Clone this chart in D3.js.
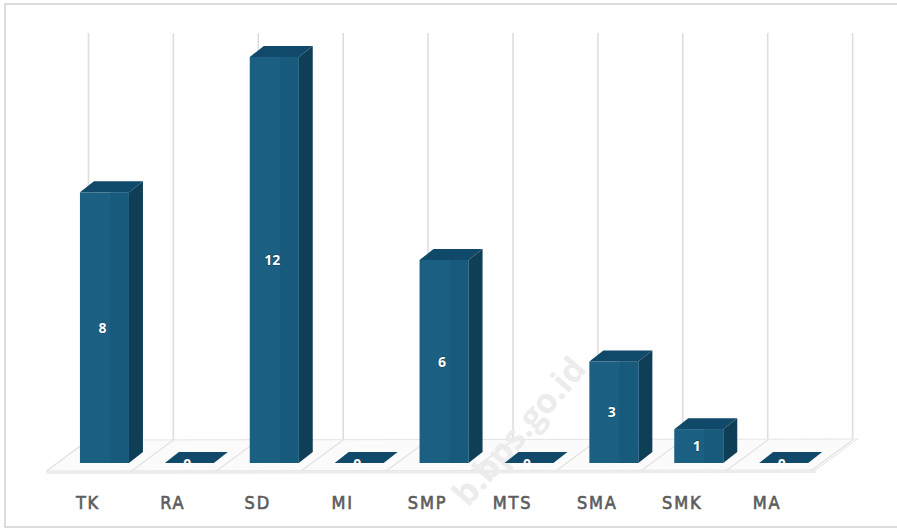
<!DOCTYPE html>
<html><head><meta charset="utf-8">
<script src="https://cdn.jsdelivr.net/npm/d3@7/dist/d3.min.js"></script>
<style>html,body{margin:0;padding:0;background:#fff;overflow:hidden}</style>
</head><body>
<svg id="chart" width="897" height="531"></svg>
<script>
const categories = ["TK","RA","SD","MI","SMP","MTS","SMA","SMK","MA"];
const values = [8,0,12,0,6,0,3,1,0];
const yDomain = [0,12];
const watermarkText = "b.bps.go.id";

const svg = d3.select("#chart");
const W = 897, H = 531;

// projection constants (oblique 3D)
const floorFrontY = 471, depthDx = 42, depthDy = -31;
const barDx = 14, barDy = -11, barShiftX = 15.5, barBaseY = 463;

const x = d3.scaleBand().domain(categories).range([46.5, 46.5 + 84.9*categories.length]).padding(0);
const y = d3.scaleLinear().domain(yDomain).range([barBaseY, 57]);
const gridTopY = 33;
const floorBackY = floorFrontY + depthDy;

// back wall vertical gridlines
const bounds = categories.map(c => x(c)).concat([x.range()[1]]);
svg.append("g").selectAll("line").data(bounds).join("line")
  .attr("x1", d => d + depthDx).attr("x2", d => d + depthDx)
  .attr("y1", gridTopY).attr("y2", floorBackY)
  .attr("stroke", "#dedede").attr("stroke-width", 1.6);

// floor
const fl = x.range()[0], fr = x.range()[1] + 5;
svg.append("path")
  .attr("d", `M${fl},${floorFrontY} L${fr},${floorFrontY-1} L${fr+depthDx},${floorFrontY-1+depthDy} L${fl+depthDx},${floorBackY} Z`)
  .attr("fill", "#fbfbfb").attr("stroke", "#e4e4e4").attr("stroke-width", 1);
svg.append("path")
  .attr("d", `M${fl},${floorFrontY} L${fr},${floorFrontY-1} L${fr},${floorFrontY+2} L${fl},${floorFrontY+3} Z`)
  .attr("fill", "#ececec");
// floor diagonal grid lines
svg.append("g").selectAll("line").data(bounds).join("line")
  .attr("x1", d => d).attr("y1", floorFrontY)
  .attr("x2", d => d + depthDx).attr("y2", floorBackY)
  .attr("stroke", "#e2e2e2").attr("stroke-width", 1.2);

// watermark (behind bars)
svg.append("text")
  .attr("transform", "translate(468,508) rotate(-49)")
  .attr("font-family", "'Open Sans', sans-serif").attr("font-weight", 700).attr("font-size", 34)
  .attr("fill", "#ececec")
  .text(watermarkText);

// bars
const colFront = "#1b5f83", colSide = "#0f3e57", colTop = "#11496a";
const bw = 49;
const gBars = svg.append("g");
categories.forEach((c, i) => {
  const v = values[i];
  const cx = x(c) + x.bandwidth()/2 + barShiftX;
  const L = cx - bw/2, R = cx + bw/2;
  const yT = y(v), yB = y(0);
  const g = gBars.append("g");
  if (v > 0) {
    g.append("path").attr("d", `M${R},${yB} L${R+barDx},${yB+barDy} L${R+barDx},${yT+barDy} L${R},${yT} Z`).attr("fill", colSide);
    g.append("rect").attr("x", L).attr("y", yT).attr("width", bw).attr("height", yB - yT).attr("fill", colFront);
    g.append("rect").attr("x", L+bw*0.62).attr("y", yT).attr("width", bw*0.38).attr("height", yB - yT).attr("fill", "#185778").attr("opacity", 0.6);
  }
  g.append("path").attr("d", `M${L},${yT} L${L+barDx},${yT+barDy} L${R+barDx},${yT+barDy} L${R},${yT} Z`).attr("fill", colTop);
  // value label
  const ly = v > 0 ? (yT + yB)/2 : yB + 1;
  g.append("text").attr("x", cx - 2).attr("y", ly).attr("dy", "0.36em")
    .attr("text-anchor", "middle")
    .attr("font-family", "'Open Sans', sans-serif").attr("font-weight", 700).attr("font-size", 14)
    .attr("fill", "#ffffff")
    .attr("stroke", v > 0 ? "#0d3a52" : "none").attr("stroke-width", 0.8).attr("paint-order", "stroke")
    .text(v);
});

// category labels
svg.append("g").selectAll("text").data(categories).join("text")
  .attr("x", d => x(d) + x.bandwidth()/2 - 1).attr("y", 509)
  .attr("text-anchor", "middle")
  .attr("font-family", "'DejaVu Sans Condensed', 'DejaVu Sans', sans-serif")
  .attr("font-weight", 400).attr("font-size", 18).attr("letter-spacing", 1.8)
  .attr("fill", "#5c5c5c").attr("stroke", "#5c5c5c").attr("stroke-width", 0.6)
  .text(d => d);

// frame
svg.append("rect").attr("x", 5).attr("y", 4).attr("width", W + 10).attr("height", 523)
  .attr("fill", "none").attr("stroke", "#d2d2d2").attr("stroke-width", 1.5);
</script>
</body></html>
